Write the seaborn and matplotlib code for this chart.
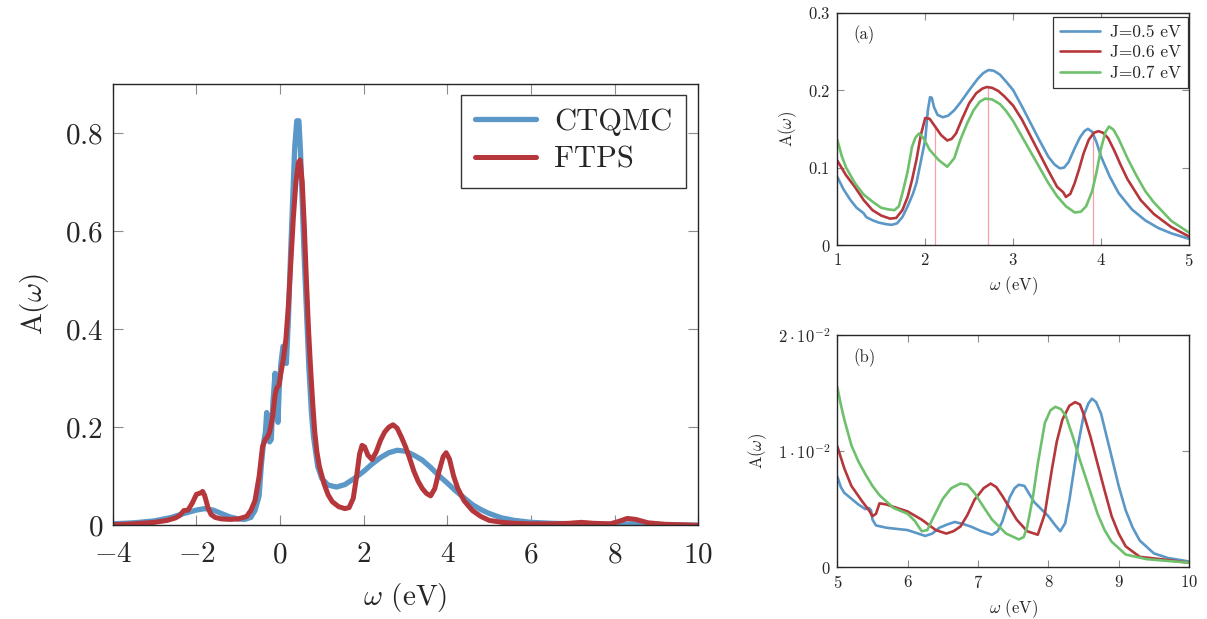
import numpy as np
import pandas as pd
import matplotlib
matplotlib.use("Agg")
import matplotlib.pyplot as plt
import seaborn as sns

sns.set_style("ticks")
plt.rcParams["font.family"] = ["cmr10", "DejaVu Serif"]
plt.rcParams["mathtext.fontset"] = "cm"
plt.rcParams["axes.formatter.use_mathtext"] = True
plt.rcParams["axes.unicode_minus"] = True

# ---- left panel: CTQMC vs FTPS ----
ctqmc_w = [-4, -3.5, -3.0, -2.6, -2.3, -2.0, -1.8, -1.6, -1.4, -1.2, -1.0, -0.85, -0.7, -0.6,
           -0.55, -0.5, -0.45, -0.4, -0.35, -0.32, -0.29, -0.25, -0.21, -0.17, -0.12, -0.08,
           -0.05, -0.02, 0.02, 0.07, 0.11, 0.15, 0.2, 0.25, 0.3, 0.35, 0.4, 0.45, 0.49, 0.53,
           0.58, 0.63, 0.69, 0.75, 0.8, 0.9, 1.0, 1.15, 1.35, 1.55, 1.8, 2.0, 2.2, 2.4, 2.6,
           2.8, 3.0, 3.2, 3.4, 3.6, 3.8, 4.0, 4.2, 4.4, 4.6, 4.8, 5.0, 5.3, 5.6, 6.0, 6.5,
           7.0, 7.5, 8.0, 8.4, 8.8, 9.3, 10.0]
ctqmc_a = [0.003, 0.005, 0.009, 0.016, 0.024, 0.031, 0.034, 0.031, 0.024, 0.017, 0.013, 0.012,
           0.016, 0.03, 0.045, 0.06, 0.12, 0.165, 0.19, 0.23, 0.215, 0.17, 0.175, 0.25, 0.31,
           0.26, 0.21, 0.28, 0.33, 0.365, 0.36, 0.33, 0.42, 0.55, 0.66, 0.77, 0.825, 0.825,
           0.76, 0.66, 0.54, 0.44, 0.32, 0.23, 0.18, 0.12, 0.095, 0.082, 0.078, 0.083, 0.097,
           0.11, 0.125, 0.138, 0.148, 0.153, 0.151, 0.143, 0.133, 0.118, 0.101, 0.086, 0.07,
           0.056, 0.042, 0.032, 0.024, 0.015, 0.01, 0.006, 0.004, 0.003, 0.002, 0.002, 0.003,
           0.002, 0.001, 0.0]

ftps_w = [-4, -3.5, -3.0, -2.7, -2.5, -2.4, -2.3, -2.2, -2.1, -2.0, -1.9, -1.85, -1.8, -1.72,
          -1.65, -1.55, -1.4, -1.2, -1.0, -0.8, -0.7, -0.6, -0.5, -0.42, -0.35, -0.3, -0.25,
          -0.18, -0.12, -0.08, -0.03, 0.02, 0.08, 0.14, 0.2, 0.26, 0.32, 0.38, 0.44, 0.48,
          0.53, 0.58, 0.63, 0.68, 0.73, 0.78, 0.83, 0.88, 0.94, 1.05, 1.15, 1.25, 1.4, 1.55,
          1.65, 1.75, 1.83, 1.9, 1.96, 2.02, 2.1, 2.2, 2.3, 2.4, 2.5, 2.6, 2.7, 2.8, 2.9, 3.0,
          3.1, 3.2, 3.3, 3.4, 3.5, 3.6, 3.7, 3.8, 3.9, 3.97, 4.05, 4.15, 4.25, 4.4, 4.6, 4.8,
          5.0, 5.3, 5.6, 6.0, 6.5, 6.9, 7.2, 7.5, 7.9, 8.1, 8.3, 8.5, 8.8, 9.2, 10.0]
ftps_a = [0.001, 0.003, 0.006, 0.01, 0.015, 0.02, 0.03, 0.031, 0.045, 0.063, 0.066, 0.069,
          0.06, 0.035, 0.022, 0.016, 0.013, 0.012, 0.013, 0.018, 0.03, 0.05, 0.1, 0.16, 0.175,
          0.18, 0.19, 0.22, 0.265, 0.28, 0.285, 0.31, 0.34, 0.38, 0.45, 0.54, 0.63, 0.70,
          0.74, 0.745, 0.70, 0.61, 0.50, 0.40, 0.32, 0.25, 0.19, 0.15, 0.12, 0.085, 0.062,
          0.048, 0.038, 0.034, 0.036, 0.055, 0.10, 0.145, 0.163, 0.16, 0.143, 0.134, 0.15,
          0.173, 0.19, 0.2, 0.205, 0.198, 0.18, 0.16, 0.136, 0.11, 0.09, 0.075, 0.065, 0.06,
          0.075, 0.11, 0.14, 0.148, 0.135, 0.1, 0.075, 0.05, 0.03, 0.018, 0.01, 0.006, 0.004,
          0.003, 0.003, 0.004, 0.006, 0.004, 0.003, 0.008, 0.014, 0.012, 0.005, 0.002, 0.0]

# ---- panel (a): 1 to 5 eV ----
wa_05 = [1.0, 1.07, 1.15, 1.22, 1.3, 1.33, 1.4, 1.47, 1.55, 1.62, 1.68, 1.74, 1.8, 1.86,
         1.9, 1.95, 2.0, 2.03, 2.055, 2.075, 2.1, 2.14, 2.2, 2.26, 2.33, 2.4, 2.5, 2.6, 2.66,
         2.72, 2.78, 2.85, 2.92, 3.0, 3.1, 3.2, 3.3, 3.4, 3.47, 3.53, 3.58, 3.63, 3.7, 3.76,
         3.81, 3.85, 3.9, 3.95, 4.0, 4.1, 4.2, 4.35, 4.5, 4.65, 4.8, 5.0]
aa_05 = [0.088, 0.072, 0.058, 0.048, 0.041, 0.036, 0.032, 0.029, 0.027, 0.026, 0.028, 0.036,
         0.05, 0.066, 0.080, 0.108, 0.136, 0.174, 0.191, 0.190, 0.178, 0.168, 0.165, 0.167,
         0.174, 0.184, 0.20, 0.215, 0.222, 0.226, 0.225, 0.22, 0.211, 0.20, 0.179, 0.157,
         0.135, 0.114, 0.104, 0.099, 0.1, 0.107, 0.125, 0.139, 0.147, 0.150, 0.146, 0.132,
         0.114, 0.088, 0.067, 0.046, 0.032, 0.022, 0.015, 0.008]

wa_06 = [1.0, 1.1, 1.2, 1.3, 1.4, 1.5, 1.6, 1.67, 1.74, 1.8, 1.85, 1.9, 1.95, 2.0, 2.05, 2.1,
         2.18, 2.25, 2.3, 2.35, 2.42, 2.5, 2.58, 2.65, 2.7, 2.76, 2.83, 2.9, 3.0, 3.1, 3.2,
         3.3, 3.4, 3.5, 3.57, 3.6, 3.65, 3.7, 3.75, 3.8, 3.86, 3.92, 3.97, 4.02, 4.08, 4.15,
         4.22, 4.3, 4.45, 4.6, 4.8, 5.0]
aa_06 = [0.109, 0.09, 0.075, 0.058, 0.045, 0.038, 0.034, 0.035, 0.045, 0.062, 0.084, 0.11,
         0.142, 0.164, 0.163, 0.155, 0.142, 0.135, 0.137, 0.144, 0.163, 0.183, 0.196, 0.202,
         0.204, 0.203, 0.199, 0.192, 0.18, 0.162, 0.14, 0.118, 0.096, 0.075, 0.068, 0.062,
         0.066, 0.08, 0.098, 0.118, 0.136, 0.145, 0.147, 0.145, 0.138, 0.122, 0.104, 0.085,
         0.058, 0.040, 0.023, 0.011]

wa_07 = [1.0, 1.05, 1.1, 1.2, 1.3, 1.4, 1.5, 1.58, 1.65, 1.7, 1.75, 1.8, 1.85, 1.89, 1.93,
         1.98, 2.05, 2.15, 2.25, 2.33, 2.4, 2.48, 2.55, 2.62, 2.68, 2.76, 2.85, 2.92, 3.0,
         3.1, 3.2, 3.3, 3.4, 3.5, 3.6, 3.7, 3.77, 3.83, 3.9, 3.95, 4.0, 4.05, 4.09, 4.14,
         4.2, 4.3, 4.4, 4.5, 4.6, 4.8, 5.0]
aa_07 = [0.136, 0.115, 0.10, 0.08, 0.065, 0.056, 0.048, 0.046, 0.045, 0.05, 0.071, 0.095,
         0.127, 0.139, 0.144, 0.138, 0.123, 0.11, 0.101, 0.112, 0.136, 0.158, 0.174, 0.185,
         0.189, 0.188, 0.182, 0.173, 0.16, 0.14, 0.12, 0.10, 0.08, 0.063, 0.050, 0.042,
         0.043, 0.05, 0.07, 0.095, 0.125, 0.146, 0.153, 0.149, 0.137, 0.112, 0.09, 0.07,
         0.055, 0.031, 0.016]

# pink guide lines in panel (a)
guide_w = [2.11, 2.71, 3.91]
guide_top = [0.155, 0.205, 0.142]

# ---- panel (b): 5 to 10 eV ----
wb_05 = [5.0, 5.05, 5.1, 5.2, 5.3, 5.4, 5.45, 5.48, 5.5, 5.55, 5.7, 6.0, 6.25, 6.35, 6.45,
         6.57, 6.67, 6.8, 6.9, 7.05, 7.2, 7.28, 7.35, 7.45, 7.52, 7.58, 7.66, 7.8, 8.0, 8.1,
         8.17, 8.24, 8.3, 8.4, 8.5, 8.57, 8.62, 8.68, 8.75, 8.9, 9.0, 9.1, 9.2, 9.3, 9.5,
         9.7, 10.0]
ab_05 = [0.0078, 0.0069, 0.0064, 0.0059, 0.0054, 0.0050, 0.0051, 0.0049, 0.0041, 0.0036,
         0.0034, 0.0032, 0.0027, 0.0029, 0.0034, 0.0037, 0.0039, 0.0037, 0.0035, 0.0031,
         0.0028, 0.0031, 0.0040, 0.0060, 0.0068, 0.0071, 0.0070, 0.0056, 0.0044, 0.0036,
         0.0031, 0.0038, 0.0058, 0.0098, 0.0130, 0.0141, 0.0145, 0.0142, 0.0132, 0.0095,
         0.0070, 0.0049, 0.0034, 0.0023, 0.0012, 0.0008, 0.0005]

wb_06 = [5.0, 5.1, 5.2, 5.35, 5.45, 5.5, 5.55, 5.6, 5.7, 5.8, 6.0, 6.2, 6.4, 6.55, 6.65,
         6.75, 6.85, 6.95, 7.08, 7.18, 7.26, 7.35, 7.45, 7.55, 7.7, 7.85, 7.95, 8.05, 8.12,
         8.2, 8.3, 8.38, 8.45, 8.5, 8.6, 8.7, 8.8, 8.9, 9.0, 9.1, 9.3, 9.6, 10.0]
ab_06 = [0.0104, 0.0085, 0.0070, 0.0057, 0.0049, 0.0044, 0.0046, 0.0055, 0.0054, 0.0052,
         0.0048, 0.0041, 0.0032, 0.0029, 0.0031, 0.0035, 0.0045, 0.0058, 0.0068, 0.0072,
         0.0069, 0.0061, 0.0051, 0.0041, 0.0031, 0.0028, 0.0046, 0.0084, 0.0108, 0.0127,
         0.0139, 0.0142, 0.0140, 0.0132, 0.0112, 0.0089, 0.0066, 0.0044, 0.0029, 0.0018,
         0.0009, 0.0007, 0.0004]

wb_07 = [5.0, 5.05, 5.1, 5.2, 5.3, 5.4, 5.5, 5.6, 5.8, 6.0, 6.1, 6.2, 6.28, 6.35, 6.5, 6.62,
         6.75, 6.85, 6.95, 7.1, 7.2, 7.4, 7.58, 7.65, 7.7, 7.78, 7.85, 7.95, 8.03, 8.1, 8.18,
         8.25, 8.35, 8.45, 8.58, 8.7, 8.8, 8.9, 9.1, 9.4, 10.0]
ab_07 = [0.0155, 0.0140, 0.0127, 0.0105, 0.0091, 0.0080, 0.0070, 0.0062, 0.0051, 0.0046,
         0.0040, 0.0031, 0.0032, 0.0041, 0.0059, 0.0068, 0.0072, 0.0071, 0.0064, 0.0050,
         0.0041, 0.0029, 0.0024, 0.0026, 0.0035, 0.0060, 0.0089, 0.0124, 0.0135, 0.0138,
         0.0136, 0.0130, 0.0112, 0.0092, 0.0068, 0.0046, 0.0032, 0.0022, 0.0011, 0.0007,
         0.0004]

blue = "#5b97c7"
red = "#b5373b"
green = "#6fc06c"
tick_grey = "#8c8c8c"

fig = plt.figure(figsize=(12.07, 6.19), dpi=100)
ax = fig.add_axes([0.0934, 0.1514, 0.4852, 0.7129])
ax_a = fig.add_axes([0.6937, 0.6042, 0.2914, 0.3753])
ax_b = fig.add_axes([0.6937, 0.0835, 0.2914, 0.3758])


def style_axes(a, fs, tlen, xpad, ypad):
    for s in a.spines.values():
        s.set_color("#262626")
        s.set_linewidth(1.0)
    a.tick_params(direction="in", top=True, right=True, length=tlen, width=0.8,
                  color=tick_grey, labelsize=fs)
    a.tick_params(axis="x", pad=xpad)
    a.tick_params(axis="y", pad=ypad)


# left
sns.lineplot(x=ctqmc_w, y=ctqmc_a, ax=ax, color=blue, lw=3.8, label="CTQMC", sort=False)
sns.lineplot(x=ftps_w, y=ftps_a, ax=ax, color=red, lw=3.6, label="FTPS", sort=False)
ax.set_xlim(-4, 10)
ax.set_ylim(0, 0.9)
ax.set_xticks([-4, -2, 0, 2, 4, 6, 8, 10])
ax.set_xticklabels(["$-4$", "$-2$", "$0$", "$2$", "$4$", "$6$", "$8$", "$10$"])
ax.set_yticks([0, 0.2, 0.4, 0.6, 0.8])
ax.set_yticklabels(["$0$", "$0.2$", "$0.4$", "$0.6$", "$0.8$"])
style_axes(ax, 21, 7, 12, 7)
ax.set_xlabel(r"$\omega$ (eV)", fontsize=21, labelpad=9)
ax.set_ylabel(r"A$(\omega)$", fontsize=21, labelpad=10)
leg = ax.legend(loc="upper right", fontsize=22, frameon=True, fancybox=False,
                edgecolor="#333333", framealpha=1, handlelength=2.0, borderpad=0.45,
                labelspacing=0.35, handletextpad=0.6, borderaxespad=0,
                bbox_to_anchor=(0.979, 0.976))
leg.get_frame().set_linewidth(1.0)

# panel (a)
for w, a, c, lab in [(wa_05, aa_05, blue, "J=0.5 eV"), (wa_06, aa_06, red, "J=0.6 eV"),
                     (wa_07, aa_07, green, "J=0.7 eV")]:
    sns.lineplot(x=w, y=a, ax=ax_a, color=c, lw=1.9, label=lab, sort=False)
ax_a.vlines(guide_w, 0, guide_top, colors="#f5a3a8", lw=0.9, zorder=1)
ax_a.set_xlim(1, 5)
ax_a.set_ylim(0, 0.3)
ax_a.set_xticks([1, 2, 3, 4, 5])
ax_a.set_xticklabels(["$1$", "$2$", "$3$", "$4$", "$5$"])
ax_a.set_yticks([0, 0.1, 0.2, 0.3])
ax_a.set_yticklabels(["$0$", "$0.1$", "$0.2$", "$0.3$"])
style_axes(ax_a, 12, 5, 5, 5)
ax_a.set_xlabel(r"$\omega$ (eV)", fontsize=12, labelpad=4)
ax_a.set_ylabel(r"A$(\omega)$", fontsize=12, labelpad=6)
ax_a.text(0.045, 0.905, "(a)", transform=ax_a.transAxes, fontsize=12, va="center")
leg_a = ax_a.legend(loc="upper right", fontsize=12.5, frameon=True, fancybox=False,
                    edgecolor="#333333", framealpha=1, handlelength=2.3, borderpad=0.4,
                    labelspacing=0.3, handletextpad=0.6, borderaxespad=0,
                    bbox_to_anchor=(0.998, 0.98))
leg_a.get_frame().set_linewidth(0.9)

# panel (b)
for w, a, c in [(wb_05, ab_05, blue), (wb_06, ab_06, red), (wb_07, ab_07, green)]:
    sns.lineplot(x=w, y=a, ax=ax_b, color=c, lw=1.9, sort=False)
ax_b.set_xlim(5, 10)
ax_b.set_ylim(0, 0.02)
ax_b.set_xticks([5, 6, 7, 8, 9, 10])
ax_b.set_xticklabels(["$5$", "$6$", "$7$", "$8$", "$9$", "$10$"])
ax_b.set_yticks([0, 0.01, 0.02])
ax_b.set_yticklabels(["$0$", r"$1\cdot10^{-2}$", r"$2\cdot10^{-2}$"])
style_axes(ax_b, 12, 5, 5, 5)
ax_b.set_xlabel(r"$\omega$ (eV)", fontsize=12, labelpad=4)
ax_b.set_ylabel(r"A$(\omega)$", fontsize=12, labelpad=6)
ax_b.text(0.045, 0.90, "(b)", transform=ax_b.transAxes, fontsize=12, va="center")
if ax_b.get_legend() is not None:
    ax_b.get_legend().remove()

fig.savefig("out.png", dpi=100)
